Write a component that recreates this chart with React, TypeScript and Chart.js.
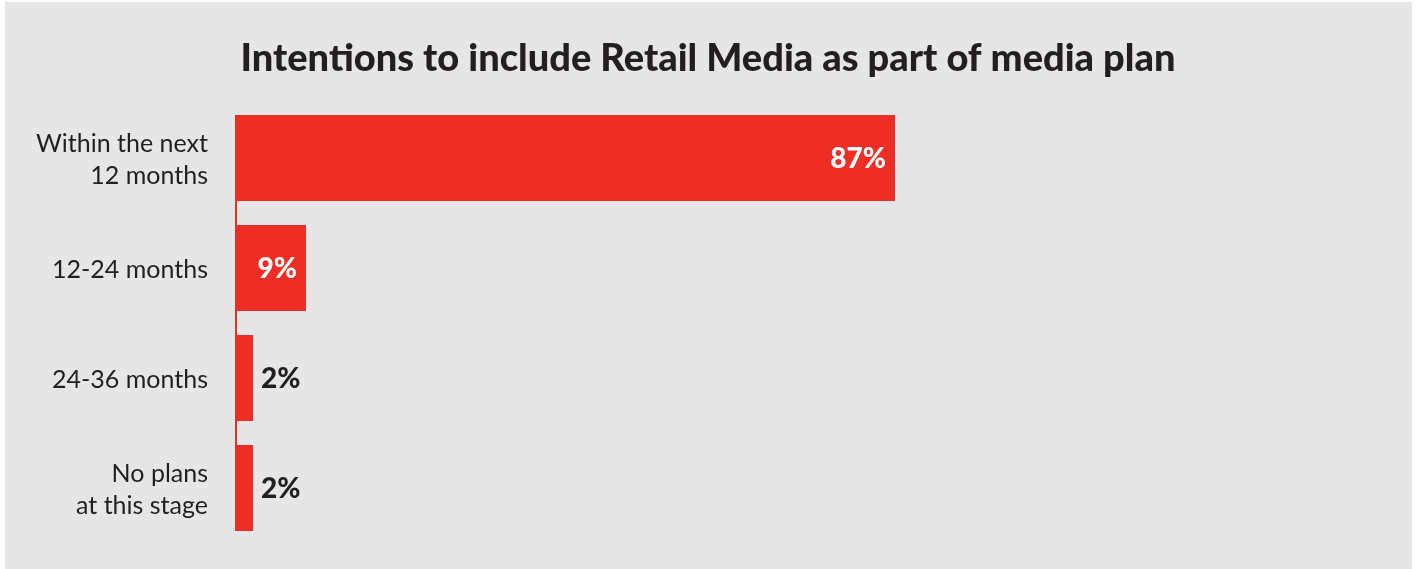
import React, { useEffect, useRef } from "react";
import { Chart, registerables } from "chart.js";

Chart.register(...registerables);

const TITLE = "Intentions to include Retail Media as part of media plan";
const categories: (string | string[])[] = [
  ["Within the next", "12 months"],
  "12-24 months",
  "24-36 months",
  ["No plans", "at this stage"],
];
const values: number[] = [87, 9, 2, 2];
const valueLabels: string[] = ["87%", "9%", "2%", "2%"];

const RED = "#EE2E24";
const DARK = "#231F20";
const BG = "#E6E6E6";
const AXIS_MIN = -0.4;
const AXIS_MAX = 156;

const axisLinePlugin = {
  id: "axisLine",
  beforeDatasetsDraw(chart: any) {
    const meta = chart.getDatasetMeta(0);
    const bars = meta.data;
    if (!bars.length) return;
    const first = bars[0].getProps(["y", "height"], true);
    const last = bars[bars.length - 1].getProps(["y", "height"], true);
    const x0 = chart.scales.x.getPixelForValue(AXIS_MIN);
    const ctx = chart.ctx;
    ctx.save();
    ctx.fillStyle = RED;
    const top = first.y - first.height / 2;
    const bottom = last.y + last.height / 2;
    ctx.fillRect(x0, top, 2, bottom - top);
    ctx.restore();
  },
};

const valueLabelPlugin = {
  id: "valueLabels",
  afterDatasetsDraw(chart: any) {
    const meta = chart.getDatasetMeta(0);
    const ctx = chart.ctx;
    ctx.save();
    ctx.font = "900 28px Lato";
    ctx.textBaseline = "middle";
    meta.data.forEach((bar: any, i: number) => {
      const { x, y, base } = bar.getProps(["x", "y", "base"], true);
      const text = valueLabels[i];
      const w = ctx.measureText(text).width;
      if (x - base > w + 20) {
        ctx.fillStyle = "#FFFFFF";
        ctx.textAlign = "right";
        ctx.fillText(text, x - 9, y + 1);
      } else {
        ctx.fillStyle = DARK;
        ctx.textAlign = "left";
        ctx.fillText(text, x + 8, y + 1);
      }
    });
    ctx.restore();
  },
};

export default function App() {
  const canvasRef = useRef<HTMLCanvasElement | null>(null);

  useEffect(() => {
    document.body.style.margin = "0";
    const canvas = canvasRef.current;
    if (!canvas) return;
    const chart = new Chart(canvas, {
      type: "bar",
      data: {
        labels: categories,
        datasets: [
          {
            data: values,
            backgroundColor: RED,
            borderWidth: 0,
            base: AXIS_MIN,
            barPercentage: 0.782,
            categoryPercentage: 1,
          },
        ],
      },
      options: {
        indexAxis: "y",
        animation: false,
        responsive: false,
        maintainAspectRatio: false,
        layout: { padding: { left: 0, right: 0, top: 0, bottom: 26 } },
        plugins: {
          legend: { display: false },
          tooltip: { enabled: false },
          title: {
            display: true,
            text: TITLE,
            color: DARK,
            font: { family: "Lato", size: 38, weight: "900", lineHeight: 1.2 },
            padding: { top: 36, bottom: 21.4 },
          },
        },
        scales: {
          x: {
            display: false,
            min: AXIS_MIN,
            max: AXIS_MAX,
          },
          y: {
            grid: { display: false, drawTicks: false },
            border: { display: false },
            ticks: {
              color: DARK,
              padding: 27,
              labelOffset: 2,
              font: { family: "Lato", size: 25, weight: "normal", lineHeight: 1.3 },
            },
            afterFit: (scale: any) => {
              scale.width = 235;
              scale.paddingTop = 0;
              scale.paddingBottom = 0;
            },
          },
        },
      },
      plugins: [axisLinePlugin, valueLabelPlugin],
    });
    return () => chart.destroy();
  }, []);

  return (
    <div style={{ position: "relative", width: 1416, height: 569, background: "#FFFFFF", overflow: "hidden" }}>
      <div style={{ position: "absolute", left: 5, top: 2, width: 1407, height: 567, background: BG }} />
      <canvas
        ref={canvasRef}
        width={1416}
        height={569}
        style={{ position: "absolute", left: 0, top: 0, width: 1416, height: 569 }}
      />
    </div>
  );
}
